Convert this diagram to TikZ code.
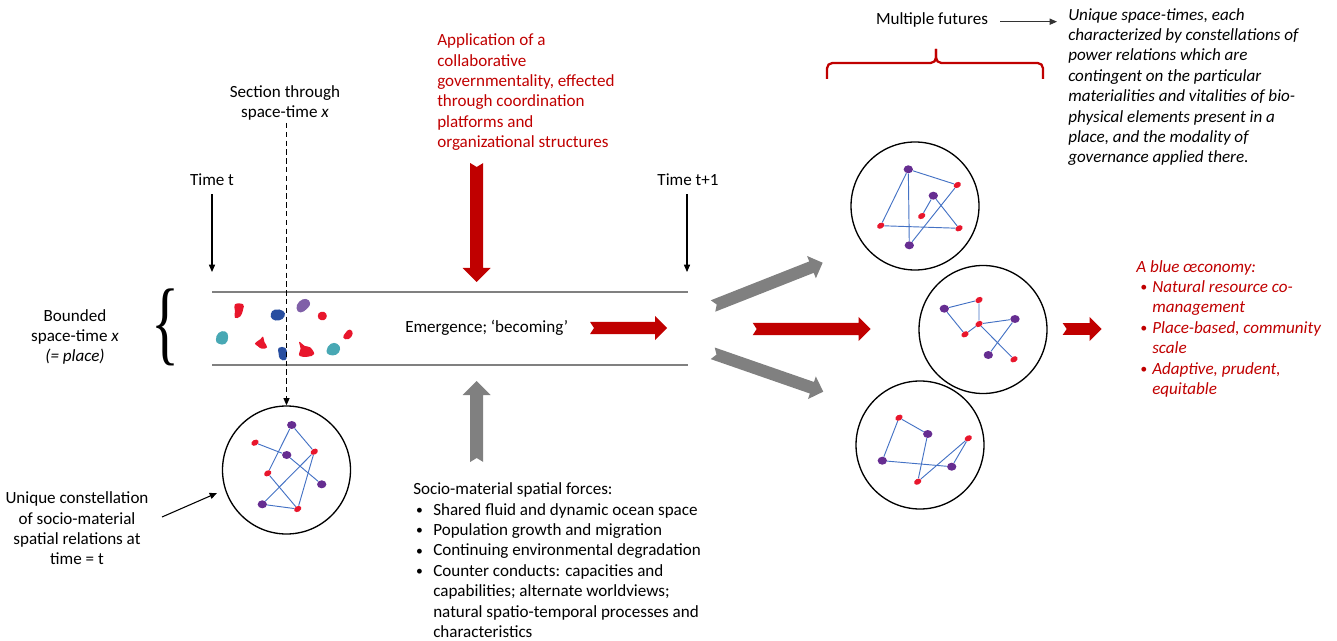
\documentclass[tikz,border=0pt]{standalone}
\usepackage{graphicx}
\usepackage{fontspec}
\setmainfont{Carlito}
\newfontfamily\bracefont{Liberation Serif}
\usetikzlibrary{arrows.meta,calc,shapes.geometric}

\definecolor{arrowred}{RGB}{192,0,0}
\definecolor{tubegray}{RGB}{128,128,128}
\definecolor{linkblue}{RGB}{68,114,196}
\definecolor{dotred}{RGB}{232,22,44}
\definecolor{dotpurple}{RGB}{102,45,145}
\definecolor{blobteal}{RGB}{72,168,180}
\definecolor{blobblue}{RGB}{40,78,160}
\definecolor{blobmauve}{RGB}{128,96,168}

% block arrow with a notched tail: #1 fill, #2 tail, #3 tip, #4 head half-width (pt), #5 shaft half-width (pt)
\newcommand\blockarrow[5]{%
  \path let \p1=($(#3)-(#2)$) in \pgfextra{%
    \pgfmathsetmacro\blkang{atan2(\y1,\x1)}%
    \pgfmathsetmacro\blklen{veclen(\x1,\y1)}%
    \global\let\blkangle\blkang
    \global\let\blklength\blklen};
  \pgfmathsetmacro\blkneck{\blklength-#4}%
  \fill[#1, shift={(#2)}, rotate=\blkangle]
    (0pt,#5pt) -- (\blkneck pt,#5pt) -- (\blkneck pt,#4pt) -- (\blklength pt,0pt)
    -- (\blkneck pt,-#4pt) -- (\blkneck pt,-#5pt) -- (0pt,-#5pt) -- (3pt,0pt) -- cycle;
}

\newcommand\smallbullet{\raisebox{0.6pt}{\scalebox{0.8}{\textbullet}}}
\newcommand\sbl{\makebox[15pt][l]{\hspace{2.2pt}\smallbullet}}
\newcommand\sind{\hspace*{15pt}}
\newcommand\rbl{\makebox[12pt][l]{\hspace{3pt}\smallbullet}}
\newcommand\rind{\hspace*{12pt}}

\begin{document}
\begin{tikzpicture}[x=0.75pt,y=-0.75pt,
  every node/.style={inner sep=0pt},
  txt/.style={font=\fontsize{12.8}{15.3}\selectfont},
  itxt/.style={font=\fontsize{12.8}{15.3}\selectfont\itshape},
  thinarrow/.style={draw=black, line width=0.8pt, -{Triangle[length=5.5pt,width=4.6pt]}},
  dasharrow/.style={thinarrow, dash pattern=on 4pt off 2.6pt},
  tube/.style={draw=tubegray, line width=2.2pt},
  ring/.style={circle, draw=black, line width=1pt, minimum size=96pt},
  link/.style={draw=linkblue, line width=0.7pt},
  pdot/.style={ellipse, fill=dotpurple, minimum width=7pt, minimum height=6pt},
  rdot/.style={ellipse, fill=dotred, minimum width=5.8pt, minimum height=4.2pt, rotate=30},
  blob/.style={scale=1.35},
  bracered/.style={draw=arrowred, line width=1.7pt, rounded corners=4pt}]

\useasboundingbox (0,0) rectangle (1337,641);

% ---------- the bounded space-time (tube) ----------
\coordinate (tubeTL) at (212,292);
\coordinate (tubeTR) at (688,292);
\coordinate (tubeBL) at (212,365);
\coordinate (tubeBR) at (688,365);
\draw[tube] (tubeTL) -- (tubeTR);
\draw[tube] (tubeBL) -- (tubeBR);

% elements present in the place
\fill[dotred, shift={(239,311)}, blob] plot[smooth cycle, tension=0.7] coordinates {(-3,-5) (3,-5) (3,-1) (1,4) (-3,5) (-3,0)};
\fill[blobblue, shift={(277.7,315)}, blob] plot[smooth cycle, tension=0.8] coordinates {(-5,-1) (-2,-4) (4,-3) (5,1) (1,4) (-4,3)};
\fill[blobmauve, shift={(303.3,305.7)}, blob] plot[smooth cycle, tension=0.8] coordinates {(-5,2) (-3,-3) (2,-5) (5,-2) (3,2) (-2,5)};
\fill[dotred, shift={(322.7,316)}, blob] plot[smooth cycle, tension=0.8] coordinates {(-3,-2) (1,-3) (3,0) (1,3) (-3,2)};
\fill[blobteal, shift={(222.7,338.3)}, blob] plot[smooth cycle, tension=0.8] coordinates {(-5,1) (-3,-4) (2,-5) (4,-1) (2,4) (-3,4)};
\fill[dotred, shift={(261.7,343.3)}, blob] plot[smooth cycle, tension=0.7] coordinates {(-5,0) (-1,-3) (1,-5) (2,-1) (4,3) (0,4) (-3,2)};
\fill[dotred, shift={(347.3,335)}, blob] plot[smooth cycle, tension=0.8] coordinates {(-3,2) (-1,-2) (2,-4) (4,-1) (1,3)};
\fill[blobblue, shift={(282.7,353.3)}, blob] plot[smooth cycle, tension=0.8] coordinates {(-3,-4) (2,-4) (3,1) (2,5) (-2,4) (-3,0)};
\fill[dotred, shift={(306,350)}, blob] plot[smooth cycle, tension=0.7] coordinates {(-5,-6) (-1,-3) (3,-2) (6,3) (1,5) (-5,4) (-4,-1)};
\fill[blobteal, shift={(333.3,349.3)}, blob] plot[smooth cycle, tension=0.8] coordinates {(-5,1) (-2,-4) (3,-4) (5,0) (2,4) (-3,4)};

\node[txt, anchor=base west] (emerge) at (405,333) {Emergence; ‘becoming’};

% left brace and label
\node (lbrace) at (166,327.5) {\resizebox{21pt}{48.5pt}{\bracefont\{}};
\node[txt, align=center, anchor=north] (bounded) at (75,309) {Bounded\\space-time \textit{x}\\\textit{(= place)}};

% time markers
\node[txt] (timet) at (212,180) {Time t};
\coordinate (timetEnd) at (212,272);
\draw[thinarrow] ($(timet.south)+(0,8)$) -- (timetEnd);
\node[txt] (timet1) at (688,180) {Time t+1};
\coordinate (timet1End) at (687,272);
\draw[thinarrow] ($(timet1.south)+(-1,8)$) -- (timet1End);

% section through the tube
\node[txt, align=center, anchor=north] (section) at (285,85) {Section through\\space-time \textit{x}};
\coordinate (secTop) at (286.5,123);

% ---------- constellation at time t ----------
\node[ring] (ringA) at (286.5,470) {};
\draw[dasharrow] (secTop) -- (ringA.north);

\node[pdot] (a1) at (291.7,425) {};
\node[rdot] (a2) at (255,442.7) {};
\node[pdot] (a3) at (286.7,455) {};
\node[rdot] (a4) at (314.3,451.7) {};
\node[rdot] (a5) at (267.7,473.3) {};
\node[pdot] (a6) at (321.7,484.3) {};
\node[pdot] (a7) at (262.3,504.3) {};
\node[rdot] (a8) at (297.7,509) {};
\draw[link] (a1) -- (a4);
\draw[link] (a2) -- (a3);
\draw[link] (a3) -- (a6);
\draw[link] (a1) -- (a5);
\draw[link] (a5) -- (a8);
\draw[link] (a7) -- (a8);
\draw[link] (a7) -- (a4);
\draw[link] (a4) -- (a8);

\node[txt, align=center, anchor=north] (constell) at (77,491.5) {Unique constellation\\of socio-material\\spatial relations at\\time = t};
\coordinate (uqStart) at (162,517);
\coordinate (uqEnd) at (217,493);
\draw[thinarrow] (uqStart) -- (uqEnd);

% ---------- forces acting on the place ----------
\node[txt, text=arrowred, align=left, anchor=north west] (gov) at (437,33.5)
  {Application of a\\collaborative\\governmentality, effected\\through coordination\\platforms and\\organizational structures};
\coordinate (govTail) at (476.7,163);
\coordinate (govTip) at (476.7,282);
\blockarrow{arrowred}{govTail}{govTip}{10.5}{4.9}

\coordinate (forceTail) at (476.7,462);
\coordinate (forceTip) at (476.7,381);
\blockarrow{tubegray}{forceTail}{forceTip}{10.5}{4.9}

\node[txt, align=left, anchor=north west] (forces) at (413,482.5)
  {Socio-material spatial forces:\\
   \sbl Shared fluid and dynamic ocean space\\
   \sbl Population growth and migration\\
   \sbl Continuing environmental degradation\\
   \sbl Counter conducts: capacities and\\
   \sind capabilities; alternate worldviews;\\
   \sind natural spatio-temporal processes and\\
   \sind characteristics};

% ---------- emergence towards multiple futures ----------
\coordinate (emTail) at (590,328);
\coordinate (emTip) at (667,328);
\blockarrow{arrowred}{emTail}{emTip}{9}{4.6}

\coordinate (upTail) at (713,306);
\coordinate (upTip) at (822.7,262.7);
\blockarrow{tubegray}{upTail}{upTip}{9}{4.6}
\coordinate (midTail) at (752.7,329);
\coordinate (midTip) at (870.7,329);
\blockarrow{arrowred}{midTail}{midTip}{9}{4.6}
\coordinate (lowTail) at (712.7,353.3);
\coordinate (lowTip) at (823.3,391.7);
\blockarrow{tubegray}{lowTail}{lowTip}{9}{4.6}

% future 1
\node[ring] (ringB) at (915,206) {};
\node[pdot] (b1) at (908.3,169.3) {};
\node[rdot] (b2) at (957.3,185) {};
\node[pdot] (b3) at (933.3,195.7) {};
\node[rdot] (b4) at (921.7,216) {};
\node[rdot] (b5) at (880.7,225.7) {};
\node[rdot] (b6) at (959,228.3) {};
\node[pdot] (b7) at (909.3,245.3) {};
\draw[link] (b1) -- (b2);
\draw[link] (b1) -- (b5);
\draw[link] (b1) -- (b7);
\draw[link] (b3) -- (b4);
\draw[link] (b3) -- (b6);
\draw[link] (b5) -- (b6);
\draw[link] (b7) -- (b2);

% future 2
\node[ring] (ringC) at (983,329.5) {};
\node[pdot] (c1) at (944.3,308.7) {};
\node[rdot] (c2) at (979,300) {};
\node[rdot] (c3) at (979,324) {};
\node[rdot] (c4) at (965,334.3) {};
\node[pdot] (c5) at (1015,319) {};
\node[pdot] (c6) at (988.3,355) {};
\node[rdot] (c7) at (1014,359.3) {};
\draw[link] (c1) -- (c2);
\draw[link] (c2) -- (c3);
\draw[link] (c1) -- (c4);
\draw[link] (c4) -- (c3);
\draw[link] (c3) -- (c5);
\draw[link] (c3) -- (c7);
\draw[link] (c5) -- (c6);

% future 3
\node[ring] (ringD) at (920,445) {};
\node[rdot] (d1) at (899,417.7) {};
\node[pdot] (d2) at (927.7,434) {};
\node[rdot] (d3) at (968.3,438.3) {};
\node[pdot] (d4) at (882.3,460.7) {};
\node[pdot] (d5) at (951.7,466.7) {};
\node[rdot] (d6) at (917.7,481.7) {};
\draw[link] (d1) -- (d2);
\draw[link] (d1) -- (d4);
\draw[link] (d4) -- (d5);
\draw[link] (d2) -- (d6);
\draw[link] (d6) -- (d3);
\draw[link] (d3) -- (d5);

% multiple futures bracket and caption
\draw[bracered] (827,79) -- (827,63) -- (936,63) -- (936,49);
\draw[bracered] (936,49) -- (936,63) -- (1043,63) -- (1043,79);
\node[txt, anchor=base] (multi) at (932,25) {Multiple futures};
\coordinate (multiStart) at (1000,21.7);
\coordinate (multiEnd) at (1057,21.7);
\draw[thinarrow, draw=black!80] (multiStart) -- (multiEnd);

\node[itxt, align=left, anchor=north west] (spacetimes) at (1068,8)
  {Unique space-times, each\\characterized by constellations of\\power relations which are\\contingent on the particular\\materialities and vitalities of bio-\\physical elements present in a\\place, and the modality of\\governance applied there.};

% outcome
\coordinate (outTail) at (1062.7,329);
\coordinate (outTip) at (1101.7,329);
\blockarrow{arrowred}{outTail}{outTip}{9}{4.4}

\node[itxt, text=arrowred, align=left, anchor=north west] (blue) at (1136,260)
  {A blue œconomy:\\
   \rbl Natural resource co-\\
   \rind management\\
   \rbl Place-based, community\\
   \rind scale\\
   \rbl Adaptive, prudent,\\
   \rind equitable};

\end{tikzpicture}
\end{document}
